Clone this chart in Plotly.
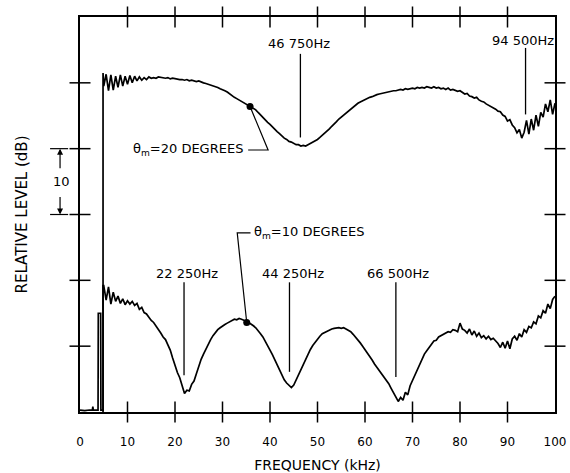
import numpy as np
import plotly.graph_objects as go

# ---------------- data ----------------
grid_freq = [round(5.0 + 0.5 * i, 1) for i in range(191)]  # 5.0 .. 100.0 kHz sampling

level_20deg = [
    49.5, 51.3, 48.8, 51.2, 48.9, 51.0, 49.3, 51.2, 49.5, 51.0,   # 5.0-9.5
    49.8, 51.1, 50.0, 51.0, 50.3, 50.9, 50.4, 50.8, 50.5, 50.9,   # 10-14.5
    50.7, 50.8, 50.7, 50.9, 50.8, 50.8, 50.7, 50.8, 50.6, 50.7,   # 15-19.5
    50.6, 50.6, 50.5, 50.5, 50.4, 50.5, 50.3, 50.4, 50.3, 50.2,   # 20-24.5
    50.3, 50.1, 50.0, 49.9, 49.8, 49.7, 49.5, 49.4, 49.3, 49.1,   # 25-29.5
    49.0, 48.8, 48.6, 48.3, 48.1, 47.8, 47.6, 47.4, 47.2, 47.0,   # 30-34.5
    46.8, 46.6, 46.4, 46.2, 45.9, 45.5, 45.1, 44.8, 44.4, 44.0,   # 35-39.5
    43.7, 43.3, 43.0, 42.6, 42.3, 41.9, 41.6, 41.4, 41.1, 41.0,   # 40-44.5
    40.8, 40.6, 40.6, 40.4, 40.5, 40.4, 40.6, 40.8, 40.9, 41.2,   # 45-49.5
    41.4, 41.7, 42.0, 42.3, 42.7, 43.0, 43.4, 43.7, 44.1, 44.5,   # 50-54.5
    44.8, 45.2, 45.5, 45.8, 46.1, 46.3, 46.6, 46.9, 47.1, 47.3,   # 55-59.5
    47.5, 47.6, 47.8, 47.9, 48.1, 48.2, 48.3, 48.4, 48.5, 48.5,   # 60-64.5
    48.6, 48.7, 48.8, 48.8, 48.9, 49.0, 48.9, 49.1, 49.0, 49.1,   # 65-69.5
    49.2, 49.1, 49.3, 49.2, 49.3, 49.2, 49.4, 49.3, 49.2, 49.4,   # 70-74.5
    49.2, 49.3, 49.1, 49.2, 49.0, 49.2, 48.9, 49.0, 48.8, 48.7,   # 75-79.5
    48.8, 48.5, 48.3, 48.4, 48.0, 47.9, 47.7, 47.8, 47.4, 47.2,   # 80-84.5
    47.1, 46.8, 46.6, 46.5, 46.2, 46.0, 45.7, 45.6, 45.1, 44.9,   # 85-89.5
    44.2, 44.4, 43.6, 43.2, 42.4, 42.9, 41.6, 42.5, 44.3, 42.2,   # 90-94.5
    44.5, 42.8, 45.1, 43.4, 45.5, 44.8, 46.8, 45.6, 47.4, 45.2,   # 95-99.5
    46.9,                                                          # 100
]

level_10deg = [
    19.2, 17.0, 19.0, 16.4, 18.2, 16.8, 17.6, 16.5, 17.2, 16.3,   # 5.0-9.5
    16.9, 16.4, 16.8, 16.2, 16.5, 15.6, 15.9, 15.1, 14.9, 14.4,   # 10-14.5
    13.9, 13.6, 13.1, 12.6, 12.0, 11.4, 11.0, 10.2, 9.4, 8.2,     # 15-19.5
    7.0, 6.0, 5.2, 3.8, 2.8, 3.3, 3.2, 4.2, 4.7, 5.8,             # 20-24.5
    7.0, 8.0, 8.8, 9.6, 10.2, 11.0, 11.6, 12.1, 12.5, 12.8,       # 25-29.5
    13.1, 13.3, 13.5, 13.7, 13.9, 14.1, 14.0, 14.2, 14.1, 14.0,   # 30-34.5
    13.8, 13.6, 13.4, 13.1, 12.8, 12.4, 11.9, 11.4, 10.8, 10.1,   # 35-39.5
    9.4, 8.7, 7.9, 7.1, 6.4, 5.6, 4.9, 4.4, 4.0, 3.7,             # 40-44.5
    4.1, 4.9, 5.6, 6.4, 7.3, 8.1, 8.8, 9.5, 10.1, 10.6,           # 45-49.5
    11.1, 11.5, 11.9, 12.1, 12.3, 12.5, 12.6, 12.7, 12.8, 12.8,   # 50-54.5
    12.7, 12.8, 12.6, 12.4, 12.2, 11.8, 11.4, 11.0, 10.5, 10.0,   # 55-59.5
    9.5, 9.0, 8.5, 7.9, 7.3, 6.8, 6.3, 5.9, 5.4, 4.9,             # 60-64.5
    4.3, 3.6, 3.0, 2.3, 1.6, 2.2, 1.8, 3.0, 2.6, 4.0,             # 65-69.5
    4.8, 5.6, 6.4, 7.3, 8.0, 8.8, 9.3, 9.9, 10.3, 10.8,           # 70-74.5
    10.9, 11.4, 11.6, 11.8, 12.0, 12.2, 12.1, 12.5, 12.4, 12.2,   # 75-79.5
    13.5, 12.6, 12.4, 12.0, 12.6, 11.7, 12.3, 11.5, 12.0, 11.3,   # 80-84.5
    11.6, 11.1, 11.5, 11.0, 11.2, 10.8, 10.4, 9.8, 10.6, 9.7,     # 85-89.5
    10.8, 9.6, 11.1, 11.5, 10.9, 11.9, 11.4, 12.5, 12.1, 13.0,    # 90-94.5
    12.8, 13.7, 13.4, 14.6, 14.3, 15.4, 15.0, 16.4, 15.7, 17.1,   # 95-99.5
    17.6,                                                          # 100
]

# start-up segments (vertical rise at about 4.85 kHz, small spike near 4 kHz)
start_freq_20 = [4.85, 4.85]
start_level_20 = [0.0, 51.5]
start_freq_10 = [0.0, 1.0, 2.0, 2.6, 2.7, 2.8, 3.8, 3.85, 4.35, 4.4, 4.85, 4.85]
start_level_10 = [0.3, 0.2, 0.3, 0.3, 0.8, 0.3, 0.3, 15.0, 15.0, 0.3, 0.3, 19.2]

# marked points on the curves
dot_freq = [35.8, 35.1]
dot_level = [46.4, 13.6]

# null-frequency callouts: label, label x, label y, line x, line top, line bottom
null_labels = ["46 750Hz", "94 500Hz", "22 250Hz", "44 250Hz", "66 500Hz"]
null_label_x = [46.2, 93.3, 22.6, 44.8, 67.0]
null_label_y = [56.0, 56.4, 21.1, 21.1, 21.1]
null_line_x = [46.4, 93.8, 21.9, 44.1, 66.5]
null_line_top = [54.4, 55.3, 19.7, 19.7, 19.7]
null_line_bottom = [41.7, 45.2, 5.6, 6.1, 5.3]

x_tick_vals = [0, 10, 20, 30, 40, 50, 60, 70, 80, 90, 100]
x_tick_text = ["0", "10", "20", "30", "40", "50", "60", "70", "80", "90", "100"]
x_minor_ticks = [10, 20, 30, 40, 50, 60, 70, 80, 90]
y_ticks = [10, 20, 30, 40, 50]
x_range = [0, 100]
y_range = [0, 60]

FONT = "DejaVu Sans"
BLACK = "#000000"

fig = go.Figure()

fig.add_trace(go.Scatter(
    x=start_freq_20 + grid_freq, y=start_level_20 + level_20deg,
    mode="lines", line=dict(color=BLACK, width=1.7), showlegend=False,
    hoverinfo="skip"))
fig.add_trace(go.Scatter(
    x=start_freq_10 + grid_freq, y=start_level_10 + level_10deg,
    mode="lines", line=dict(color=BLACK, width=1.7), showlegend=False,
    hoverinfo="skip"))
fig.add_trace(go.Scatter(
    x=dot_freq, y=dot_level, mode="markers",
    marker=dict(color=BLACK, size=7), showlegend=False, hoverinfo="skip"))

# crossing tick marks on all four sides (placed at the tick values on the frame)
tick_x = x_minor_ticks + x_minor_ticks
tick_y = [y_range[0]] * len(x_minor_ticks) + [y_range[1]] * len(x_minor_ticks)
fig.add_trace(go.Scatter(
    x=tick_x, y=tick_y, mode="markers", cliponaxis=False,
    marker=dict(symbol="line-ns-open", size=15, color=BLACK,
                line=dict(color=BLACK, width=1.5)),
    showlegend=False, hoverinfo="skip"))
tick2_x = [x_range[0]] * len(y_ticks) + [x_range[1]] * len(y_ticks)
tick2_y = y_ticks + y_ticks
fig.add_trace(go.Scatter(
    x=tick2_x, y=tick2_y, mode="markers", cliponaxis=False,
    marker=dict(symbol="line-ew-open", size=15, color=BLACK,
                line=dict(color=BLACK, width=1.5)),
    showlegend=False, hoverinfo="skip"))

shapes = []
annotations = []

for lab, lx, ly, vx, vt, vb in zip(null_labels, null_label_x, null_label_y,
                                   null_line_x, null_line_top, null_line_bottom):
    shapes.append(dict(type="line", xref="x", yref="y", x0=vx, x1=vx, y0=vt, y1=vb,
                       line=dict(color=BLACK, width=1.3)))
    annotations.append(dict(x=lx, y=ly, xref="x", yref="y", text=lab,
                            showarrow=False, xanchor="center", yanchor="middle",
                            font=dict(family=FONT, size=13, color=BLACK)))

# theta_m = 20 label and leader
annotations.append(dict(x=34.8, y=39.8, xref="x", yref="y",
                        text="θ<sub>m</sub>=20 DEGREES", showarrow=False,
                        xanchor="right", yanchor="middle",
                        font=dict(family=FONT, size=13, color=BLACK)))
shapes.append(dict(type="path", xref="x", yref="y",
                   path="M 35.4 39.8 L 39.6 39.8 L 35.8 46.4",
                   line=dict(color=BLACK, width=1.2)))

# theta_m = 10 label and leader
annotations.append(dict(x=36.3, y=27.2, xref="x", yref="y",
                        text="θ<sub>m</sub>=10 DEGREES", showarrow=False,
                        xanchor="left", yanchor="middle",
                        font=dict(family=FONT, size=13, color=BLACK)))
shapes.append(dict(type="path", xref="x", yref="y",
                   path="M 35.9 27.2 L 33.1 27.2 L 35.1 13.6",
                   line=dict(color=BLACK, width=1.2)))

# 10 dB scale bar left of the axis
bar_x = -0.042
for yv in (30, 40):
    shapes.append(dict(type="line", xref="paper", yref="y", x0=-0.063, x1=-0.025,
                       y0=yv, y1=yv, line=dict(color=BLACK, width=1.2)))
annotations.append(dict(x=bar_x, y=40, xref="paper", yref="y", ax=0, ay=21,
                        axref="pixel", ayref="pixel", text="", showarrow=True,
                        arrowhead=2, arrowsize=1, arrowwidth=1.2, arrowcolor=BLACK))
annotations.append(dict(x=bar_x, y=30, xref="paper", yref="y", ax=0, ay=-19,
                        axref="pixel", ayref="pixel", text="", showarrow=True,
                        arrowhead=2, arrowsize=1, arrowwidth=1.2, arrowcolor=BLACK))
annotations.append(dict(x=-0.038, y=35, xref="paper", yref="y", text="10",
                        showarrow=False, xanchor="center", yanchor="middle",
                        font=dict(family=FONT, size=13, color=BLACK)))

fig.update_layout(
    width=570, height=473,
    margin=dict(l=80, r=15, t=17, b=61, autoexpand=False),
    paper_bgcolor="white", plot_bgcolor="white",
    font=dict(family=FONT, color=BLACK),
    xaxis=dict(range=x_range, tickvals=x_tick_vals, ticktext=x_tick_text,
               ticks="", showline=True, linecolor=BLACK, linewidth=2,
               mirror=True, ticklabelstandoff=18, automargin=False,
               showgrid=False, zeroline=False,
               tickfont=dict(family=FONT, size=12, color=BLACK),
               title=dict(text="FREQUENCY (kHz)", standoff=14,
                          font=dict(family=FONT, size=14, color=BLACK))),
    yaxis=dict(range=y_range, showticklabels=False, ticks="",
               showline=True, linecolor=BLACK, linewidth=2, mirror=True,
               automargin=False, showgrid=False, zeroline=False,
               title=dict(text="RELATIVE LEVEL (dB)", standoff=47,
                          font=dict(family=FONT, size=15, color=BLACK))),
    shapes=shapes,
    annotations=annotations,
)

# remove the browser's default page margin so the 570x473 figure fills the window
fig.write_html("out.html", config={"displayModeBar": False},
               post_script="document.body.style.margin='0';")
